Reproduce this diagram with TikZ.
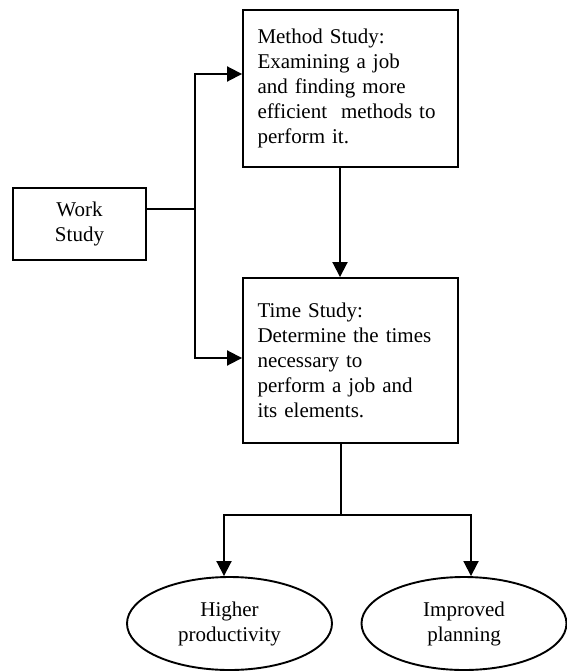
\documentclass[tikz,border=0pt]{standalone}
\usepackage{fontspec}
\setmainfont{Liberation Serif}
\usetikzlibrary{positioning,arrows.meta,shapes.geometric}

\begin{document}
\begin{tikzpicture}[x=1pt, y=-1pt,
            studybox/.style={rectangle, draw=black, line width=1.9pt, minimum width=215pt, text width=186pt, inner xsep=14.5pt, align=left, font=\fontsize{21}{25}\selectfont},
            worknode/.style={rectangle, draw=black, line width=1.9pt, minimum width=133pt, minimum height=72pt, align=center, font=\fontsize{21}{25}\selectfont},
            resultnode/.style={ellipse, draw=black, line width=1.9pt, minimum width=205pt, minimum height=93pt, inner sep=0pt, align=center, font=\fontsize{21}{25}\selectfont},
            link/.style={line width=1.9pt},
            arrowlink/.style={line width=1.9pt, -{Triangle[length=15pt,width=15pt]}},
            ]
            \useasboundingbox (0,0) rectangle (566,671);

            %Nodes
            \node[worknode]   (work)     at (79.5,224)   {Work\\Study};
            \node[studybox, minimum height=157pt] (method) at (350.5,88.5)
                {Method Study:\\Examining a job\\and finding more\\efficient\ \ methods to\\perform it.};
            \node[studybox, minimum height=165pt] (time)   at (350.5,360.5)
                {Time Study:\\Determine the times\\necessary to\\perform a job and\\its elements.};
            \node[resultnode] (higher)   at (229.5,623.5) {Higher\\productivity};
            \node[resultnode] (improved) at (464,623.5)   {Improved\\planning};

            \coordinate (split) at (195,209);
            \coordinate (fork)  at (341,515);

            %Lines
            \draw[link] (work.east |- split) -- (split);
            \draw[arrowlink] (split) |- (method.west |- 0,74);
            \draw[arrowlink] (split) |- (time.west |- 0,358);
            \draw[arrowlink] (method.south -| 340,0) -- (time.north -| 340,0);
            \draw[link] (time.south -| fork) -- (fork);
            \draw[arrowlink] (fork) -| (higher.north -| 224,0);
            \draw[arrowlink] (fork) -| (improved.north -| 471,0);

        \end{tikzpicture}
\end{document}
